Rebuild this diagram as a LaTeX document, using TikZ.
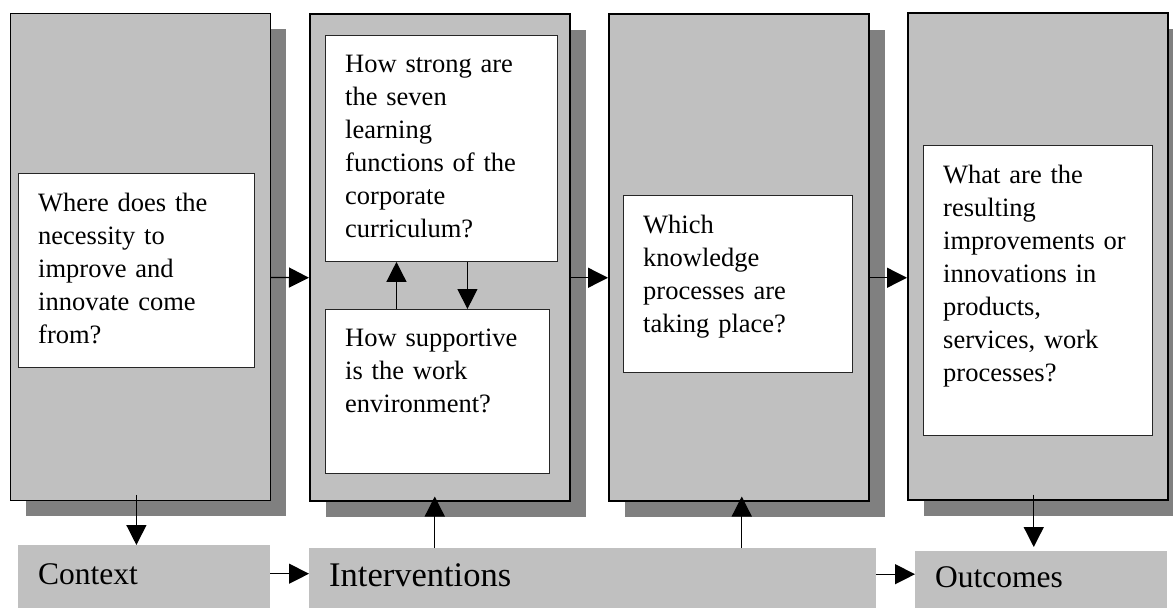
\documentclass[tikz,border=0pt]{standalone}
\usepackage{fontspec}
\setmainfont{Liberation Serif}
\usetikzlibrary{arrows.meta,shadows}
\definecolor{panelgray}{HTML}{C0C0C0}
\definecolor{shadowgray}{HTML}{808080}

\begin{document}
\begin{tikzpicture}[x=1pt, y=-1pt]

\tikzstyle{panel} = [rectangle, draw=black, line width=1.5pt, fill=panelgray, anchor=north west, inner sep=0pt, minimum width=260pt, minimum height=487pt, general shadow={fill=shadowgray, shadow xshift=16pt, shadow yshift=-16pt}]
\tikzstyle{qbox} = [rectangle, draw=black!85, line width=0.9pt, fill=white, anchor=north west, inner sep=0pt]
\tikzstyle{qtext} = [anchor=north west, inner xsep=20pt, inner ysep=20pt, text width=215pt, align=left, font=\fontsize{26.5}{33}\selectfont]
\tikzstyle{stage} = [rectangle, fill=panelgray, anchor=north west, inner xsep=20pt, inner ysep=0pt, align=left, text height=22pt, text depth=6pt]
\tikzstyle{arr} = [-{Triangle[length=20pt, width=20pt]}, line width=1.3pt]

\useasboundingbox (0,0) rectangle (1173,608);

\node[panel, line width=0.8pt] (p1) at (10,13) {};
\node[panel] (p2) at (309,13) {};
\node[panel] (p3) at (608,13) {};
\node[panel] (p4) at (907,12) {};

\node[qbox, minimum width=236pt, minimum height=194pt] (b1) at (18,173) {};
\node[qbox, minimum width=232pt, minimum height=226pt] (b2a) at (325,35) {};
\node[qbox, minimum width=224pt, minimum height=164pt] (b2b) at (325,309) {};
\node[qbox, minimum width=229pt, minimum height=177pt] (b3) at (623,195) {};
\node[qbox, minimum width=229pt, minimum height=290pt] (b4) at (923,145) {};

\node[qtext] (t1) at (b1.north west) {Where does the\\ necessity to\\ improve and\\ innovate come\\ from?};
\node[qtext] (t2a) at (b2a.north west) {How strong are\\ the seven\\ learning\\ functions of the\\ corporate\\ curriculum?};
\node[qtext] (t2b) at (b2b.north west) {How supportive\\ is the work\\ environment?};
\node[qtext] (t3) at (b3.north west) {Which\\ knowledge\\ processes are\\ taking place?};
\node[qtext] (t4) at (b4.north west) {What are the\\ resulting\\ improvements or\\ innovations in\\ products,\\ services, work\\ processes?};

\node[stage, text width=212pt, minimum height=63pt, font=\fontsize{31.5}{36}\selectfont] (ctx) at (18,545) {Context};
\node[stage, text width=527pt, minimum height=60pt, font=\fontsize{34.5}{40}\selectfont] (intv) at (309,548) {Interventions};
\node[stage, text width=212pt, minimum height=57pt, font=\fontsize{31.5}{36}\selectfont] (outc) at (915,551) {Outcomes};

\draw[arr] ([yshift=-20.5pt]p1.east) -- ([yshift=-20.5pt]p2.west);
\draw[arr] ([yshift=-20.5pt]p2.east) -- ([yshift=-20.5pt]p3.west);
\draw[arr] ([yshift=-20.5pt]p3.east) -- ([yshift=-20.5pt]p3.east -| p4.west);

\draw[arr] ([xshift=-41pt]b2b.north) -- ([xshift=-41pt]b2b.north |- b2a.south);
\draw[arr] ([xshift=30pt]b2b.north |- b2a.south) -- ([xshift=30pt]b2b.north);

\draw[arr] ([xshift=-4pt, yshift=6pt]p1.south) -- ([xshift=-4pt]p1.south |- ctx.north);
\draw[arr] ([xshift=-5pt]p2.south |- intv.north) -- ([xshift=-5pt, yshift=5pt]p2.south);
\draw[arr] ([xshift=3pt]p3.south |- intv.north) -- ([xshift=3pt, yshift=5pt]p3.south);
\draw[arr, shorten >=4pt] ([xshift=-4pt, yshift=6pt]p4.south) -- ([xshift=-4pt]p4.south |- outc.north);

\draw[arr] ([yshift=3pt]ctx.east) -- ([yshift=3pt]ctx.east -| intv.west);
\draw[arr] ([yshift=4pt]intv.east) -- ([yshift=4pt]intv.east -| outc.west);
\end{tikzpicture}
\end{document}
